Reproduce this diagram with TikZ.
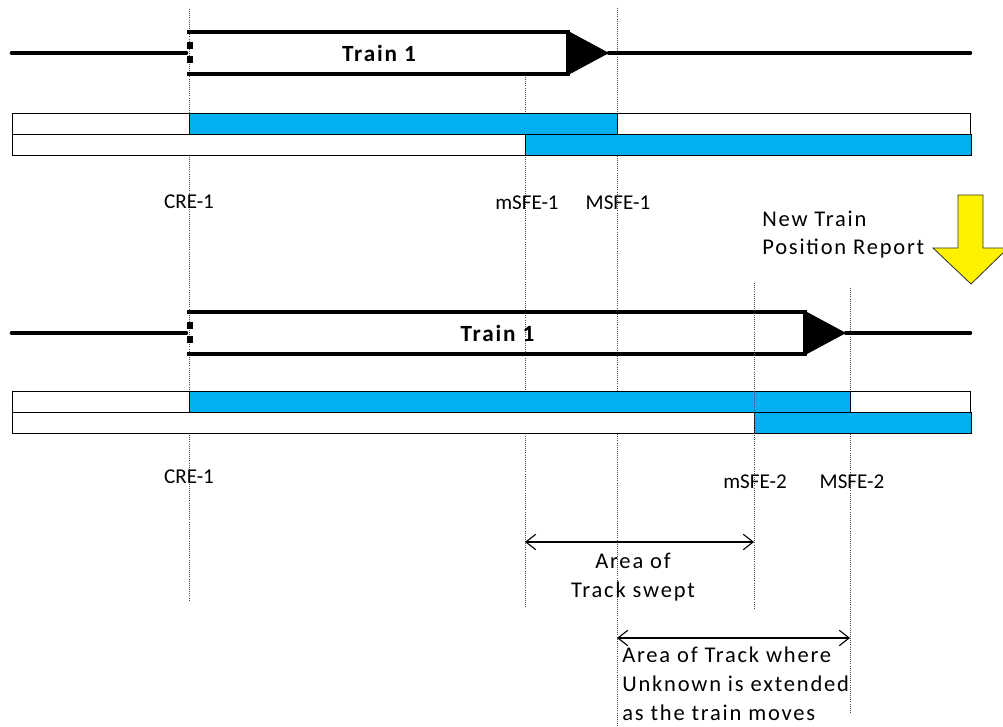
\documentclass[tikz,border=0pt]{standalone}
\usepackage{fontspec}
\setmainfont{Carlito}
\newfontfamily\widefont{Carlito}[LetterSpace=8]
\usetikzlibrary{arrows.meta}
\definecolor{trackblue}{HTML}{00B0F0}

\begin{document}
\begin{tikzpicture}[x=0.025cm,y=-0.025cm,
    rail/.style={line width=3.3pt,line cap=round},
    bar/.style={line width=0.6pt},
    marker/.style={densely dotted,line width=0.5pt,black!70},
    lbl/.style={font=\fontsize{15}{18}\selectfont,inner sep=0pt},
    note/.style={font=\widefont\fontsize{16}{20.6}\selectfont,inner sep=0pt},
    span/.style={{Straight Barb[length=7pt,width=11pt]}-{Straight Barb[length=7pt,width=11pt]},line width=0.8pt}]
\clip (0,0) rectangle (1003,727);
    \def\couleur{trackblue}
    % limits of the train, before and after the report
    \path[coordinate] (189,9)   coordinate(cre1)   (189,600) coordinate(cre1b)
                      (525,77)  coordinate(msfe1)  (525,608) coordinate(msfe1b)
                      (617,8)   coordinate(Msfe1)  (617,727) coordinate(Msfe1b)
                      (754,283) coordinate(msfe2)  (754,608) coordinate(msfe2b)
                      (850,288) coordinate(Msfe2)  (850,712) coordinate(Msfe2b);
    \foreach \a in {cre1,msfe1,Msfe1,msfe2,Msfe2}
        \draw[marker] (\a) -- (\a b);
    % trains and the two rows of each state
    \foreach \o/\b/\n/\mS/\MS/\k in {0/0/570/525/617/1,280/278/807/754/850/2}{%
        \begin{scope}[shift={(0,\o)}]
            \draw[rail] (12,53) -- (186,53);
            \draw[rail] (\n+39,53) -- (970,53);
            \fill[line join=round] (\n-4,32) -- (\n,32) -- (\n+39,53) -- (\n,74) -- (\n-4,74) -- cycle;
            \draw[rail,line cap=butt] (187,32) -- (\n,32) (187,74) -- (\n,74);
            \draw[line width=4.3pt,dash pattern=on 5pt off 5pt] (190,42) -- (190,63);
            \node[font=\widefont\bfseries\fontsize{16.5}{18}\selectfont] (train\k) at ({(188+\n)/2},53) {Train 1};
        \end{scope}
        \begin{scope}[shift={(0,\b)}]
            \draw[bar,fill=white] (12,113) rectangle (970,134);
            \draw[bar,fill=\couleur] (189,113) rectangle (\MS,134);
            \draw[bar,fill=white] (12,134) rectangle (970,155);
            \draw[bar,fill=\couleur] (\mS,134) rectangle (971,155);
        \end{scope}
    }
    \draw[marker] (msfe2) -- (msfe2b);
    % labels
    \node[lbl] (lcre1)  at (189,202) {CRE-1};
    \node[lbl] (lmsfe1) at (527,203) {mSFE-1};
    \node[lbl] (lMsfe1) at (618,203) {MSFE-1};
    \node[lbl] (lcre2)  at (189,477) {CRE-1};
    \node[lbl] (lmsfe2) at (755,482) {mSFE-2};
    \node[lbl] (lMsfe2) at (852,482) {MSFE-2};
    % new report
    \node[note,align=left,anchor=base west] (report) at (762,255) {New Train\\Position Report};
    \draw[fill=yellow,draw=black!80,line width=0.6pt,line join=miter]
        (958,195) -- (983,195) -- (983,248) -- (1008,248) -- (971,284)
        -- (933,248) -- (958,248) -- cycle;
    % swept and unknown areas
    \path[coordinate] (525,542) coordinate(sweptL) (754,542) coordinate(sweptR)
                      (617,638) coordinate(unkL)   (850,638) coordinate(unkR);
    \draw[span] (sweptL) -- (sweptR);
    \draw[span] (unkL) -- (unkR);
    \node[note,align=center,anchor=base] (swept) at (633,597) {Area of\\Track swept};
    \node[note,align=left,anchor=base west] (unknown) at (622,720)
        {Area of Track where\\Unknown is extended\\as the train moves};
\end{tikzpicture}
\end{document}
